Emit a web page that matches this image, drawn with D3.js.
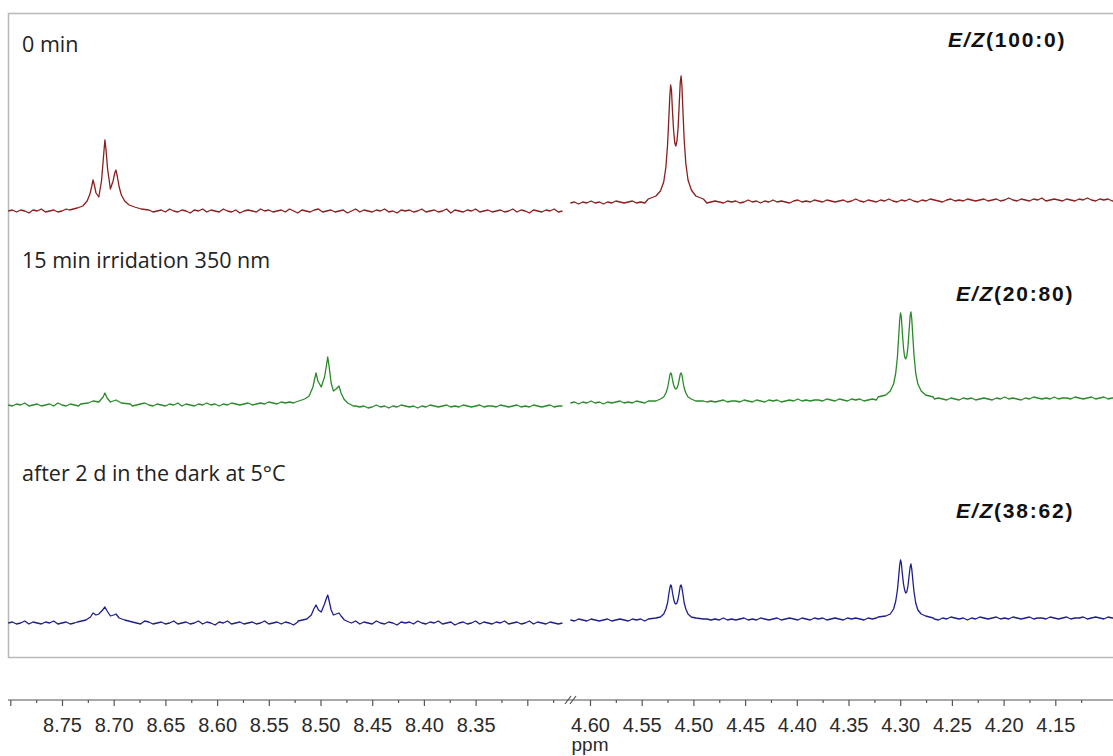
<!DOCTYPE html>
<html>
<head>
<meta charset="utf-8">
<script src="https://cdn.jsdelivr.net/npm/d3@7"></script>
<style>
    body { margin: 0; background: #fff; }
    svg { display: block; }
    .trace { fill: none; stroke-width: 1.3; stroke-linejoin: round; }
    .caption { font-family: "Open Sans", sans-serif; font-size: 21.5px; fill: #222; }
    .ratio { font-family: "Liberation Sans", Arial, sans-serif; font-size: 21px; font-weight: bold; letter-spacing: 1.8px; fill: #111; }
    .axis text { font-family: "Liberation Sans", Arial, sans-serif; font-size: 20px; fill: #2a2a2a; }
    .axis line { stroke: #555; stroke-width: 1.2; }
</style>
</head>
<body>
<script>
(function () {
    //---------------- data ----------------
    //raw spectrum sampled every 0.004 ppm, left part starts at 8.802, right part at 4.619
    var gridStep = 0.004;
    var leftStart = 8.802, rightStart = 4.619;

    //axis ticks
    var leftMajor = [8.80, 8.75, 8.70, 8.65, 8.60, 8.55, 8.50, 8.45, 8.40, 8.35, 8.30];
    var leftMinor = [8.775, 8.725, 8.675, 8.625, 8.575, 8.525, 8.475, 8.425, 8.375, 8.325, 8.275];
    var rightMajor = [4.60, 4.55, 4.50, 4.45, 4.40, 4.35, 4.30, 4.25, 4.20, 4.15];
    var rightMinor = [4.575, 4.525, 4.475, 4.425, 4.375, 4.325, 4.275, 4.225, 4.175, 4.125];
    var tickLabels = ["8.75", "8.70", "8.65", "8.60", "8.55", "8.50", "8.45", "8.40", "8.35",
        "4.60", "4.55", "4.50", "4.45", "4.40", "4.35", "4.30", "4.25", "4.20", "4.15"];

    var captions = ["0 min", "15 min irridation 350 nm", "after 2 d in the dark at 5°C"];
    var ratios = ["(100:0)", "(20:80)", "(38:62)"];
    var colors = ["#8b1e1e", "#2a8a2a", "#1f1f8c"];

    //baseline noise (intensity, a.u.)
    var redLeftNoise = [0,1,-1,1,0,-2,1,0,2,-1,0,1,-1,0,2,0,-1,1,0,-1,
        1,0,-1,2,0,1,-1,0,1,-2,0,1,0,-1,2,-1,0,1,-1,2,
        0,-1,1,0,-2,1,0,2,-1,1,0,-1,2,0,-1,1,-2,0,1,0,
        -1,2,0,1,-1,0,1,-1,2,0,-2,1,0,-1,1,2,-1,0,1,-1,
        0,1,-2,0,2,-1,1,0,-1,1,0,2,-1,0,-2,1,0,1,-1,0,
        2,-1,0,1,-1,0,2,-2,1,0,-1,1,0,2,-1,0,1,-1,0,1,
        -1,0,2,-1,1,0,-2,1,0,-1,1,0,2,-1,0];
    var redRightNoise = [8,9,7,9,8,10,8,9,7,9,8,10,9,8,9,10,8,9,8,10,
        9,8,10,9,8,10,9,8,9,10,8,9,10,8,9,10,9,8,10,9,
        10,8,9,11,9,10,8,10,9,11,9,10,9,8,10,11,9,10,9,11,
        10,9,11,10,9,10,11,9,10,12,10,9,11,10,9,11,10,12,10,9,
        11,10,12,10,9,11,10,12,11,10,9,11,12,10,11,10,12,11,10,11,
        12,10,11,12,10,11,13,11,10,12,11,10,12,11,13,10,11,12,11,10,
        12,11,10,12,11,13,11,10,12,11,12,10,11];
    var greenLeftNoise = [0,-1,1,0,2,-1,0,1,-1,0,1,-1,2,0,-1,1,0,-1,1,0,
        -1,1,0,-1,1,0,2,-1,0,1,-1,0,1,2,0,-1,1,0,-1,1,
        0,2,-1,1,0,-1,1,0,2,0,1,-1,1,0,2,1,0,1,2,0,
        1,2,1,3,2,1,3,2,3,2,3,2,4,3,2,1,0,-1,-2,-1,
        -2,-1,-2,-3,-1,-2,-1,-3,-2,0,-2,-1,-3,-1,-2,0,-1,-2,-1,-3,
        -1,-2,0,-1,-2,-1,0,-2,-1,-2,0,-1,-2,-1,0,-2,-1,-1,-2,0,
        -1,-2,-1,0,-2,-1,-2,0,-1,-2,-1,0,-2,-1,-1];
    var greenRightNoise = [2,3,1,3,2,4,2,3,1,3,2,3,4,2,3,2,4,3,2,4,
        3,2,4,3,2,4,3,4,2,3,4,3,5,3,4,3,4,5,3,4,
        4,3,5,4,3,5,4,3,5,4,5,3,4,5,4,6,4,5,4,5,
        5,4,6,5,4,6,5,4,6,5,6,4,5,6,5,6,5,7,5,6,
        6,5,7,6,5,6,7,5,6,7,6,5,7,6,5,7,6,7,5,6,
        7,6,5,7,6,8,6,7,6,5,7,6,8,7,6,7,6,8,6,7,
        7,6,8,7,6,7,8,6,7,8,6,7,7];
    var blueLeftNoise = [0,1,-1,0,2,-1,1,0,-1,1,0,2,-1,0,1,-1,0,2,0,-1,
        1,0,-2,1,0,1,-1,2,0,-1,1,0,-1,2,1,-1,0,1,-1,0,
        2,-1,0,1,-1,0,2,-1,1,0,-2,1,0,2,-1,0,1,-1,0,1,
        -1,0,2,-1,0,1,-1,1,0,-2,1,0,2,0,-1,1,-1,0,2,-1,
        0,1,-1,0,2,-1,1,0,-1,2,0,-1,1,0,-2,1,0,1,-1,2,
        0,-1,1,0,2,-1,0,1,-2,0,1,-1,0,2,-1,1,0,-1,1,0,
        2,-1,0,1,-1,0,2,-1,1,0,-1,1,0,-1,0];
    var blueRightNoise = [3,2,4,3,2,4,3,2,3,4,2,3,4,3,2,4,3,4,2,3,
        4,3,2,4,3,4,2,3,4,3,5,3,2,4,3,4,3,5,3,4,
        3,4,5,3,4,3,5,4,3,4,5,3,4,5,4,3,5,4,3,5,
        4,5,3,4,5,4,3,5,4,5,4,3,5,4,5,3,4,5,4,6,
        4,5,3,5,4,6,4,5,4,3,5,4,6,5,4,5,3,5,4,6,
        5,4,5,6,4,5,4,6,5,4,5,6,4,5,5,4,6,5,4,5,
        6,4,5,5,6,4,5,6,5,4,6,5,5];

    //signals [ppm, intensity]
    var redTriplet87 = [[8.7427,1],[8.7353,3],[8.7299,5],[8.7257,10],[8.7230,17],[8.7214,24],[8.7200,31],
        [8.7187,26],[8.7171,18],[8.7144,14],[8.7118,30],[8.7102,50],[8.7091,64],[8.7085,71],[8.7075,62],
        [8.7059,42],[8.7032,22],[8.7006,30],[8.6990,38],[8.6978,41],[8.6966,35],[8.6947,24],[8.6926,16],
        [8.6894,10],[8.6851,6],[8.6798,4],[8.6734,2],[8.6659,1]];
    var redDoublet45 = [[4.5436,12],[4.5362,15],[4.5319,20],[4.5287,29],[4.5266,44],[4.5250,66],[4.5239,90],
        [4.5228,115],[4.5220,126],[4.5212,121],[4.5202,99],[4.5191,80],[4.5180,68],[4.5170,65],[4.5159,70],
        [4.5148,83],[4.5138,105],[4.5127,129],[4.5119,135],[4.5111,125],[4.5100,97],[4.5089,71],[4.5073,47],
        [4.5052,31],[4.5020,21],[4.4977,15],[4.4903,12]];

    var greenTriplet87 = [[8.7321,1],[8.7246,2],[8.7200,4],[8.7144,3],[8.7102,8],[8.7085,12],[8.7064,7],
        [8.7032,3],[8.6978,5],[8.6926,2],[8.6840,1]];
    var greenTriplet85 = [[8.5239,3],[8.5153,6],[8.5110,9],[8.5073,18],[8.5057,26],[8.5043,32],[8.5025,24],
        [8.4993,18],[8.4961,28],[8.4942,40],[8.4930,48],[8.4916,38],[8.4897,22],[8.4875,14],[8.4849,16],
        [8.4821,19],[8.4801,12],[8.4774,6],[8.4737,2],[8.4683,-1]];
    var greenDoublet45 = [[4.5436,4],[4.5362,4],[4.5319,6],[4.5287,8],[4.5266,12],[4.5250,17],[4.5239,23],
        [4.5228,30],[4.5220,32],[4.5212,31],[4.5202,25],[4.5191,20],[4.5180,17],[4.5170,16],[4.5159,17],
        [4.5148,20],[4.5138,25],[4.5127,31],[4.5119,32],[4.5111,30],[4.5100,23],[4.5089,17],[4.5073,12],
        [4.5052,8],[4.5020,6],[4.4977,4],[4.4903,4]];
    var greenDoublet43 = [[4.3214,8],[4.3139,10],[4.3096,14],[4.3064,21],[4.3043,32],[4.3027,48],
        [4.3016,66],[4.3005,85],[4.2997,92],[4.2989,88],[4.2979,72],[4.2968,57],[4.2957,48],[4.2947,46],
        [4.2936,49],[4.2925,58],[4.2915,73],[4.2904,89],[4.2896,93],[4.2888,86],[4.2877,67],[4.2866,49],
        [4.2850,32],[4.2829,21],[4.2797,14],[4.2754,10],[4.2680,8]];

    var blueTriplet87 = [[8.7353,1],[8.7268,3],[8.7225,6],[8.7200,10],[8.7171,8],[8.7144,9],[8.7107,13],
        [8.7085,16],[8.7064,12],[8.7032,7],[8.7000,8],[8.6978,9],[8.6947,5],[8.6894,3],[8.6819,1]];
    var blueTriplet85 = [[8.5217,2],[8.5132,4],[8.5089,8],[8.5065,14],[8.5043,18],[8.5020,13],[8.4993,11],
        [8.4961,19],[8.4942,25],[8.4930,28],[8.4916,22],[8.4897,13],[8.4875,8],[8.4849,9],[8.4821,10],
        [8.4801,7],[8.4769,3],[8.4726,1]];
    var blueDoublet45 = [[4.5436,4],[4.5362,5],[4.5319,6],[4.5287,9],[4.5266,14],[4.5250,20],[4.5239,28],
        [4.5228,35],[4.5220,38],[4.5212,37],[4.5202,30],[4.5191,24],[4.5180,20],[4.5170,19],[4.5159,20],
        [4.5148,24],[4.5138,30],[4.5127,37],[4.5119,38],[4.5111,35],[4.5100,28],[4.5089,20],[4.5073,14],
        [4.5052,9],[4.5020,6],[4.4977,5],[4.4903,4]];
    var blueDoublet43 = [[4.3214,6],[4.3139,7],[4.3096,9],[4.3064,14],[4.3043,22],[4.3027,33],
        [4.3016,45],[4.3005,58],[4.2997,63],[4.2989,60],[4.2979,49],[4.2968,39],[4.2957,33],[4.2947,30],
        [4.2936,31],[4.2925,37],[4.2915,46],[4.2904,56],[4.2896,59],[4.2888,54],[4.2877,42],[4.2866,31],
        [4.2850,20],[4.2829,13],[4.2797,9],[4.2754,7],[4.2680,5]];

    //---------------- layout ----------------
    var width = 1113, height = 756;
    var frame = { x: 8.5, y: 13.5, bottom: 657.5 };
    var axisY = 700;
    var traceBase = [211, 405, 623]; //pixel row of zero intensity for each trace

    var svg = d3.select("body").append("svg")
        .attr("width", width)
        .attr("height", height);

    //broken ppm axis: two linear pieces
    var xLeft = d3.scaleLinear().domain([8.75, 8.35]).range([62, 475.6]);
    var xRight = d3.scaleLinear().domain([4.60, 4.15]).range([590, 1055.3]);

    //frame round the spectra (right side runs off the picture)
    svg.append("rect")
        .attr("x", frame.x)
        .attr("y", frame.y)
        .attr("width", 1130)
        .attr("height", frame.bottom - frame.y)
        .attr("fill", "none")
        .attr("stroke", "#b9b9b9")
        .attr("stroke-width", 1.5);

    //join grid noise and signals into one sorted list of points
    function buildSegment(start, noise, groups) {
        var pts = noise.map(function (v, i) {
            return [+(start - i * gridStep).toFixed(4), v];
        });
        groups.forEach(function (g) {
            var hi = d3.max(g, function (d) { return d[0]; });
            var lo = d3.min(g, function (d) { return d[0]; });
            pts = pts.filter(function (p) { return p[0] > hi || p[0] < lo; });
        });
        groups.forEach(function (g) { pts = pts.concat(g); });
        return pts.sort(function (a, b) { return b[0] - a[0]; });
    }

    var spectra = [
        { left: buildSegment(leftStart, redLeftNoise, [redTriplet87]),
          right: buildSegment(rightStart, redRightNoise, [redDoublet45]) },
        { left: buildSegment(leftStart, greenLeftNoise, [greenTriplet87, greenTriplet85]),
          right: buildSegment(rightStart, greenRightNoise, [greenDoublet45, greenDoublet43]) },
        { left: buildSegment(leftStart, blueLeftNoise, [blueTriplet87, blueTriplet85]),
          right: buildSegment(rightStart, blueRightNoise, [blueDoublet45, blueDoublet43]) }
    ];

    spectra.forEach(function (s, i) {
        var y = d3.scaleLinear().domain([0, 150]).range([traceBase[i], traceBase[i] - 150]);

        var lineLeft = d3.line()
            .x(function (d) { return xLeft(d[0]); })
            .y(function (d) { return y(d[1]); });
        var lineRight = d3.line()
            .x(function (d) { return xRight(d[0]); })
            .y(function (d) { return y(d[1]); });

        svg.append("path")
            .datum(s.left)
            .attr("class", "trace")
            .attr("stroke", colors[i])
            .attr("d", lineLeft);
        svg.append("path")
            .datum(s.right)
            .attr("class", "trace")
            .attr("stroke", colors[i])
            .attr("d", lineRight);
    });

    //captions on the left
    var captionY = [52, 268, 481];
    svg.selectAll(".caption")
        .data(captions)
        .enter()
        .append("text")
        .attr("class", "caption")
        .attr("x", 22)
        .attr("y", function (d, i) { return captionY[i]; })
        .text(function (d) { return d; });

    //E/Z ratios on the right
    var ratioPos = [[948, 47], [956, 301], [956, 518]];
    var ratioText = svg.selectAll(".ratio")
        .data(ratios)
        .enter()
        .append("text")
        .attr("class", "ratio")
        .attr("x", function (d, i) { return ratioPos[i][0]; })
        .attr("y", function (d, i) { return ratioPos[i][1]; });
    ratioText.append("tspan")
        .style("font-style", "italic")
        .text("E/Z");
    ratioText.append("tspan")
        .text(function (d) { return d; });

    //---------------- axis ----------------
    var axisG = svg.append("g").attr("class", "axis");
    axisG.append("line")
        .attr("x1", 8)
        .attr("x2", width)
        .attr("y1", axisY)
        .attr("y2", axisY)
        .attr("stroke", "#555")
        .attr("stroke-width", 1.5);

    var labelOf = function (d) {
        var s = d3.format(".2f")(d);
        return tickLabels.indexOf(s) >= 0 ? s : "";
    };

    function addAxis(scale, major, minor) {
        axisG.append("g")
            .attr("transform", "translate(0," + axisY + ")")
            .call(d3.axisBottom(scale).tickValues(major).tickSize(6).tickFormat(labelOf))
            .call(function (g) { g.select(".domain").remove(); });
        axisG.append("g")
            .attr("transform", "translate(0," + axisY + ")")
            .call(d3.axisBottom(scale).tickValues(minor).tickSize(3).tickFormat(""))
            .call(function (g) { g.select(".domain").remove(); });
    }
    addAxis(xLeft, leftMajor, leftMinor);
    addAxis(xRight, rightMajor, rightMinor);

    axisG.selectAll("text")
        .attr("dy", null)
        .attr("y", 32);

    //axis break mark
    [565, 570].forEach(function (bx) {
        axisG.append("line")
            .attr("x1", bx)
            .attr("y1", axisY + 4)
            .attr("x2", bx + 6)
            .attr("y2", axisY - 4)
            .attr("stroke", "#555")
            .attr("stroke-width", 1.2);
    });

    axisG.append("text")
        .attr("x", 590)
        .attr("y", 751)
        .attr("text-anchor", "middle")
        .style("font-size", "19px")
        .text("ppm");
})();
</script>
</body>
</html>
